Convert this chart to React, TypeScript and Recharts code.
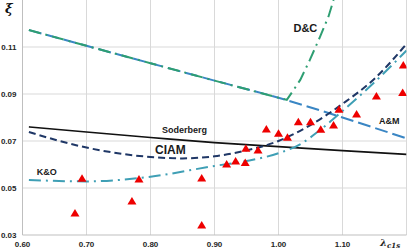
import { ComposedChart, Line, Scatter, XAxis, YAxis, CartesianGrid, ReferenceDot } from 'recharts';

// lambda_c1s vs xi curves
const amCurve = [
  { x: 0.61, y: 0.1172 },
  { x: 0.7, y: 0.1105 },
  { x: 0.8, y: 0.1031 },
  { x: 0.9, y: 0.0957 },
  { x: 1.0, y: 0.0884 },
  { x: 1.1, y: 0.08 },
  { x: 1.2, y: 0.0711 },
];

const dcCurve = [
  { x: 0.61, y: 0.1172 },
  { x: 0.7, y: 0.1105 },
  { x: 0.8, y: 0.1031 },
  { x: 0.9, y: 0.0957 },
  { x: 1.0, y: 0.0884 },
  { x: 1.013, y: 0.0875 },
  { x: 1.023, y: 0.0915 },
  { x: 1.034, y: 0.096 },
  { x: 1.049, y: 0.1045 },
  { x: 1.065, y: 0.1144 },
  { x: 1.078, y: 0.1229 },
  { x: 1.086, y: 0.13 },
];

const soderbergCurve = [
  { x: 0.61, y: 0.076 },
  { x: 0.7, y: 0.0738 },
  { x: 0.8, y: 0.0715 },
  { x: 0.9, y: 0.0693 },
  { x: 1.0, y: 0.0676 },
  { x: 1.1, y: 0.0659 },
  { x: 1.2, y: 0.0643 },
];

const ciamCurve = [
  { x: 0.61, y: 0.0738 },
  { x: 0.7, y: 0.0672 },
  { x: 0.8, y: 0.0632 },
  { x: 0.85, y: 0.0626 },
  { x: 0.9, y: 0.0635 },
  { x: 0.95, y: 0.066 },
  { x: 1.0, y: 0.07 },
  { x: 1.05, y: 0.0768 },
  { x: 1.1, y: 0.0858 },
  { x: 1.15, y: 0.0965 },
  { x: 1.2, y: 0.1113 },
];

const koCurve = [
  { x: 0.61, y: 0.0534 },
  { x: 0.7, y: 0.0528 },
  { x: 0.8, y: 0.0548 },
  { x: 0.9, y: 0.0594 },
  { x: 0.95, y: 0.0615 },
  { x: 1.0, y: 0.0648 },
  { x: 1.035, y: 0.0688 },
  { x: 1.065, y: 0.0747 },
  { x: 1.1, y: 0.0828 },
  { x: 1.15, y: 0.095 },
  { x: 1.2, y: 0.1085 },
];

const measured = [
  { x: 0.682, y: 0.0394 },
  { x: 0.693, y: 0.0541 },
  { x: 0.771, y: 0.0445 },
  { x: 0.782, y: 0.0538 },
  { x: 0.88, y: 0.0543 },
  { x: 0.88, y: 0.0343 },
  { x: 0.919, y: 0.0602 },
  { x: 0.933, y: 0.0615 },
  { x: 0.948, y: 0.0608 },
  { x: 0.949, y: 0.0669 },
  { x: 0.968, y: 0.0662 },
  { x: 0.981, y: 0.0751 },
  { x: 1.0, y: 0.0733 },
  { x: 1.014, y: 0.0716 },
  { x: 1.031, y: 0.0782 },
  { x: 1.05, y: 0.0782 },
  { x: 1.066, y: 0.075 },
  { x: 1.086, y: 0.0768 },
  { x: 1.0945, y: 0.0835 },
  { x: 1.122, y: 0.0815 },
  { x: 1.153, y: 0.0891 },
  { x: 1.194, y: 0.0906 },
  { x: 1.195, y: 0.1023 },
];

const xTicks = [0.6, 0.7, 0.8, 0.9, 1.0, 1.1, 1.2];
const yTicks = [0.03, 0.05, 0.07, 0.09, 0.11, 0.13];

const curveLabels = [
  { x: 1.042, y: 0.1181, text: 'D&C', size: 11 },
  { x: 1.173, y: 0.0784, text: 'A&M', size: 9 },
  { x: 0.831, y: 0.0662, text: 'CIAM', size: 12 },
  { x: 0.853, y: 0.0747, text: 'Soderberg', size: 9 },
  { x: 0.638, y: 0.0568, text: 'K&O', size: 9 },
];

const FONT = '"Liberation Sans", Arial, sans-serif';

const Triangle = (props: any) => {
  const { cx, cy } = props;
  return (
    <polygon
      points={`${cx},${cy - 4} ${cx + 4.5},${cy + 3.5} ${cx - 4.5},${cy + 3.5}`}
      fill="#ee0000"
    />
  );
};

export default function App() {
  return (
    <div style={{ position: 'absolute', left: 0, top: 0, width: 408, height: 250, background: '#fff' }}>
      <ComposedChart width={408} height={250} margin={{ top: 0, right: 1.5, bottom: 0, left: 0 }}>
        <CartesianGrid
          stroke="#d9d9d9"
          horizontalValues={[0.05, 0.07, 0.09, 0.11]}
          verticalValues={[0.7, 0.8, 0.9, 1.0, 1.1, 1.2]}
        />
        <XAxis
          type="number"
          dataKey="x"
          domain={[0.6, 1.2]}
          ticks={xTicks}
          allowDataOverflow
          height={15}
          tickLine={false}
          tickSize={4}
          tickMargin={2}
          axisLine={{ stroke: '#bfbfbf' }}
          tickFormatter={(v: number) => (v >= 1.15 ? '' : v.toFixed(2))}
          tick={{ fontSize: 8, fontWeight: 'bold', fill: '#262626', fontFamily: FONT }}
          label={{
            content: () => (
              <text x={380} y={246} fill="#262626" fontFamily="'DejaVu Serif', serif" fontWeight="bold" fontStyle="italic">
                <tspan fontSize={10}>λ</tspan>
                <tspan fontSize={7} dy={2}>c1s</tspan>
              </text>
            ),
          }}
        />
        <YAxis
          type="number"
          domain={[0.03, 0.13]}
          ticks={yTicks}
          allowDataOverflow
          width={22.5}
          tickLine={false}
          tickSize={4}
          tickMargin={2}
          axisLine={{ stroke: '#bfbfbf' }}
          tickFormatter={(v: number) => (v > 0.12 ? '' : v.toFixed(2))}
          tick={{ fontSize: 8, fontWeight: 'bold', fill: '#262626', fontFamily: FONT }}
          label={{
            content: () => (
              <text x={5} y={13} fontSize={13} fill="#111" fontFamily="'DejaVu Serif', serif" fontWeight="bold" fontStyle="italic">
                ξ
              </text>
            ),
          }}
        />
        <Line data={amCurve} dataKey="y" type="monotone" stroke="#3a86c4" strokeWidth={2} strokeDasharray="13 5" dot={false} isAnimationActive={false} />
        <Line data={dcCurve} dataKey="y" type="linear" stroke="#2e9e72" strokeWidth={2} strokeDasharray="12 5 2 5" dot={false} isAnimationActive={false} />
        <Line data={soderbergCurve} dataKey="y" type="monotone" stroke="#111111" strokeWidth={1.6} dot={false} isAnimationActive={false} />
        <Line data={ciamCurve} dataKey="y" type="monotone" stroke="#1f3766" strokeWidth={2} strokeDasharray="7 4" dot={false} isAnimationActive={false} />
        <Line data={koCurve} dataKey="y" type="monotone" stroke="#3f9fb5" strokeWidth={2} strokeDasharray="12 5 2 5" dot={false} isAnimationActive={false} />
        <Scatter data={measured} dataKey="y" shape={Triangle} isAnimationActive={false} />
        {curveLabels.map((l) => (
          <ReferenceDot
            key={l.text}
            x={l.x}
            y={l.y}
            r={0}
            fill="none"
            stroke="none"
            label={{ value: l.text, position: 'center', fontSize: l.size, fontWeight: 'bold', fill: '#1a1a1a', fontFamily: FONT }}
          />
        ))}
      </ComposedChart>
    </div>
  );
}
